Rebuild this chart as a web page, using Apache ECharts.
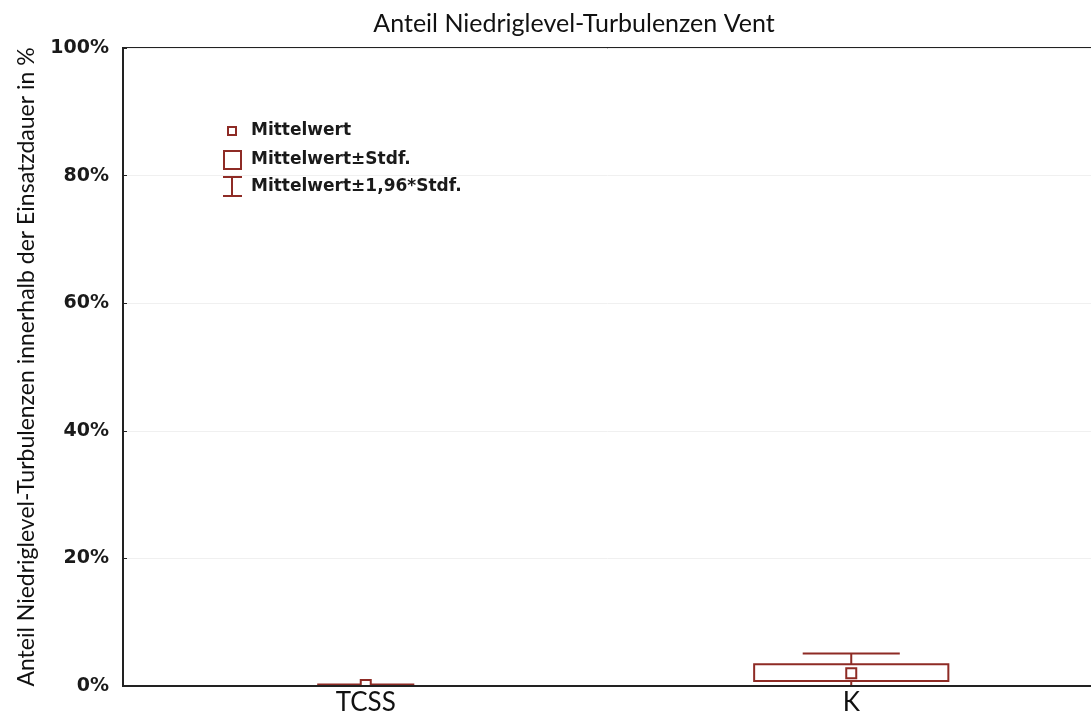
<!DOCTYPE html>
<html>
<head>
<meta charset="utf-8">
<script src="https://cdn.jsdelivr.net/npm/echarts@6/dist/echarts.min.js"></script>
<style>
  html, body { margin: 0; padding: 0; background: #fff; }
  #chart { width: 1091px; height: 715px; }
</style>
</head>
<body>
<div id="chart"></div>
<script>
// Kategorien und Werte (in %)
const categories = ["TCSS", "K"];
const means = [0.15, 2.0];
const sdLow = [0.0, 0.8];
const sdHigh = [0.0, 3.4];
const ciLow = [0.0, -1.0];
const ciHigh = [0.25, 5.1];
const yTicks = [0, 20, 40, 60, 80, 100];

const RED = "#8e2b25";

const chart = echarts.init(document.getElementById("chart"));

const boxData = categories.map((c, i) => [i, means[i], sdLow[i], sdHigh[i], ciLow[i], ciHigh[i]]);

function renderBox(params, api) {
  const i = api.value(0);
  const bandW = api.size([1, 0])[0];
  const boxHalf = bandW * 0.2;
  const capHalf = bandW * 0.1;
  const pMean = api.coord([i, api.value(1)]);
  const pSdL = api.coord([i, api.value(2)]);
  const pSdH = api.coord([i, api.value(3)]);
  const pCiL = api.coord([i, api.value(4)]);
  const pCiH = api.coord([i, api.value(5)]);
  const x = pMean[0];
  const st = { stroke: RED, lineWidth: 2, fill: null };
  return {
    type: "group",
    children: [
      // Whisker
      { type: "line", shape: { x1: x, y1: pSdH[1], x2: x, y2: pCiH[1] }, style: st },
      { type: "line", shape: { x1: x, y1: pSdL[1], x2: x, y2: pCiL[1] }, style: st },
      { type: "line", shape: { x1: x - capHalf, y1: pCiH[1], x2: x + capHalf, y2: pCiH[1] }, style: st },
      { type: "line", shape: { x1: x - capHalf, y1: pCiL[1], x2: x + capHalf, y2: pCiL[1] }, style: st },
      // Box Mittelwert±Stdf.
      { type: "rect", shape: { x: x - boxHalf, y: pSdH[1], width: boxHalf * 2, height: pSdL[1] - pSdH[1] }, style: st },
      // Mittelwert
      { type: "rect", shape: { x: x - 5, y: pMean[1] - 5, width: 10, height: 10 }, style: { stroke: RED, lineWidth: 2, fill: "#fff" } }
    ]
  };
}

const legendText = {
  fontFamily: "DejaVu Sans", fontSize: 17, fontWeight: "bold", fill: "#1a1a1a", verticalAlign: "middle"
};

const option = {
  backgroundColor: "#fff",
  animation: false,
  title: {
    text: "Anteil Niedriglevel-Turbulenzen Vent",
    left: 569,
    textAlign: "center",
    top: 6,
    textStyle: { fontFamily: "Lato", fontSize: 25, fontWeight: "normal", color: "#111" }
  },
  grid: {
    left: 123, top: 48, width: 971, height: 638,
    outerBoundsMode: "none",
    show: true, borderColor: "#222", borderWidth: 2, backgroundColor: "transparent"
  },
  xAxis: {
    type: "category",
    data: categories,
    z: 5,
    axisLine: { lineStyle: { color: "#222", width: 2 } },
    axisTick: { alignWithLabel: true, length: 4, lineStyle: { color: "#222" } },
    axisLabel: { fontFamily: "Lato", fontSize: 26, color: "#111", margin: 4 }
  },
  yAxis: {
    type: "value",
    min: 0, max: 100, interval: 20,
    name: "Anteil Niedriglevel-Turbulenzen innerhalb der Einsatzdauer in %",
    nameLocation: "middle",
    nameGap: 85,
    nameTextStyle: { fontFamily: "Lato", fontSize: 23, color: "#111" },
    axisLine: { show: true, lineStyle: { color: "#222", width: 2 } },
    axisTick: { show: true, inside: true, length: 4, lineStyle: { color: "#222" } },
    splitLine: { lineStyle: { color: "#f0f0f0", width: 1 } },
    axisLabel: {
      fontFamily: "DejaVu Sans", fontSize: 19, fontWeight: "bold", color: "#1a1a1a", margin: 14,
      formatter: (v) => (yTicks.includes(v) ? v + "%" : "")
    }
  },
  graphic: [
    { type: "rect", shape: { x: 228, y: 127, width: 8, height: 8 }, style: { stroke: RED, lineWidth: 2, fill: "#fff" } },
    { type: "text", x: 251, y: 131, style: Object.assign({ text: "Mittelwert" }, legendText) },
    { type: "rect", shape: { x: 224, y: 151, width: 17, height: 18 }, style: { stroke: RED, lineWidth: 2, fill: "#fff" } },
    { type: "text", x: 251, y: 160, style: Object.assign({ text: "Mittelwert±Stdf." }, legendText) },
    { type: "line", shape: { x1: 223, y1: 177, x2: 242, y2: 177 }, style: { stroke: RED, lineWidth: 2 } },
    { type: "line", shape: { x1: 232, y1: 177, x2: 232, y2: 196 }, style: { stroke: RED, lineWidth: 2 } },
    { type: "line", shape: { x1: 223, y1: 196, x2: 242, y2: 196 }, style: { stroke: RED, lineWidth: 2 } },
    { type: "text", x: 251, y: 187, style: Object.assign({ text: "Mittelwert±1,96*Stdf." }, legendText) }
  ],
  series: [{
    type: "custom",
    renderItem: renderBox,
    clip: true,
    z: 2,
    encode: { x: 0, y: [1, 2, 3, 4, 5] },
    data: boxData
  }]
};

chart.setOption(option);
</script>
</body>
</html>
